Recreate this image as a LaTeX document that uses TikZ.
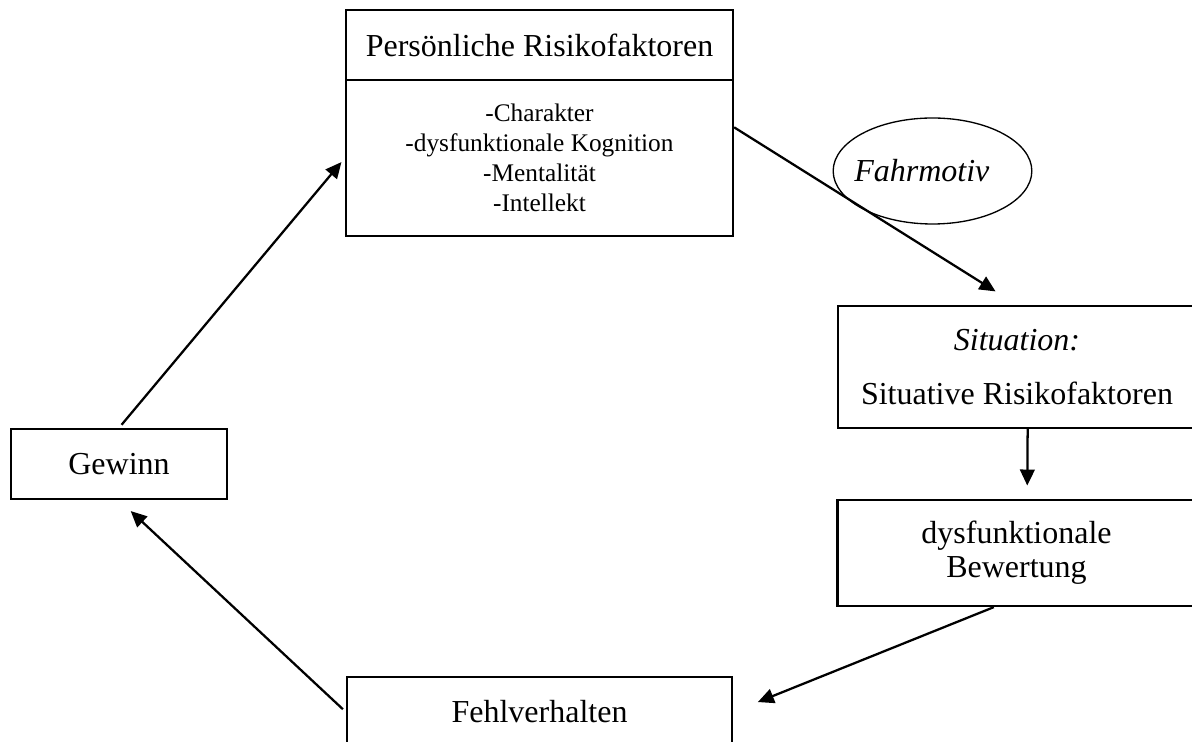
\documentclass[tikz,border=0pt]{standalone}
\usepackage{fontspec}
\setmainfont{Liberation Serif}
\usepackage{tikz}
\usetikzlibrary{arrows.meta,shapes.geometric}

\begin{document}
\begin{tikzpicture}[x=0.75pt,y=0.75pt,
  box/.style={draw,line width=1.7pt,inner sep=0pt,align=center,font=\fontsize{24}{27}\selectfont},
  pfeil/.style={line width=1.7pt,-{Triangle[length=12pt,width=11pt]}}]
\path[use as bounding box] (0,0) rectangle (1192,742);
% Kasten oben
\node[box,minimum width=290.25pt,minimum height=52.5pt] (pers) at (539.5,697) {Persönliche Risikofaktoren};
\node[box,minimum width=290.25pt,minimum height=117pt,font=\fontsize{19}{22.5}\selectfont] (persList) at (539.5,584)
  {-Charakter\\-dysfunktionale Kognition\\-Mentalität\\-Intellekt};
\node[ellipse,draw,line width=1pt,inner sep=0pt,minimum width=149pt,minimum height=79.5pt] (motiv) at (932.5,571) {};
\node[font=\fontsize{24}{27}\selectfont] (motivText) at ([xshift=-8pt]motiv.center) {\textit{Fahrmotiv}};
% rechte Seite
\node[box,minimum width=268.5pt,minimum height=91.5pt,font=\fontsize{24}{41}\selectfont] (sit) at (1017,375)
  {\textit{Situation:}\\Situative Risikofaktoren};
\node[box,minimum width=268.5pt,minimum height=79.5pt,font=\fontsize{24}{25.5}\selectfont] (bew) at (1016.5,189)
  {dysfunktionale\\Bewertung};
% unten und links
\node[box,minimum width=288.75pt,minimum height=52.5pt] (fehl) at (539.5,30) {Fehlverhalten};
\node[box,minimum width=162pt,minimum height=52.5pt] (gewinn) at (119,278) {Gewinn};
% Pfeile
\draw[pfeil,shorten <=3pt,shorten >=4pt] (gewinn.north) -- (persList.west);
\draw[pfeil,shorten >=19pt] ([yshift=23pt]persList.east) -- (sit.north);
\draw[pfeil,shorten >=10pt] ([xshift=8pt]sit.south) -- ([xshift=8pt]bew.north);
\draw[pfeil,shorten >=20pt] ([xshift=-17pt]bew.south) -- (fehl.east);
\draw[pfeil,shorten <=3pt,shorten >=12pt] (fehl.west) -- (gewinn.south);
\end{tikzpicture}
\end{document}
